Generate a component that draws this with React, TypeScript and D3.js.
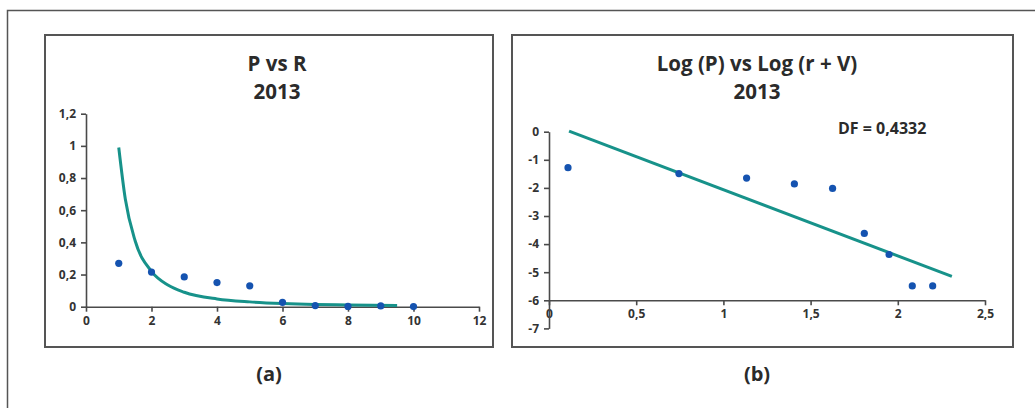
import * as d3 from "d3";
import React, { useRef, useEffect } from "react";

// chart (a): P vs R
const rValues = [1, 2, 3, 4, 5, 6, 7, 8, 9, 10];
const pValues = [0.27, 0.215, 0.185, 0.15, 0.13, 0.027, 0.007, 0.002, 0.005, 0.001];
// power trend line
const trendR = [1, 1.2, 1.5, 2, 2.5, 3, 4, 5, 6, 7, 8, 9.5];
const trendP = [0.99, 0.67, 0.41, 0.22, 0.135, 0.09, 0.048, 0.03, 0.02, 0.014, 0.011, 0.008];
const xTicksA = [0, 2, 4, 6, 8, 10, 12];
const yTicksA = [0, 0.2, 0.4, 0.6, 0.8, 1, 1.2];

// chart (b): Log (P) vs Log (r + V)
const logRV = [0.109, 0.745, 1.133, 1.407, 1.626, 1.808, 1.95, 2.083, 2.2];
const logP = [-1.28, -1.49, -1.65, -1.86, -2.02, -3.62, -4.37, -5.49, -5.49];
const fitX = [0.115, 2.31];
const fitY = [0.02, -5.15];
const xTicksB = [0, 0.5, 1, 1.5, 2, 2.5];
const yTicksB = [0, -1, -2, -3, -4, -5, -6, -7];
const dfLabel = "DF = 0,4332";

const FONT = "'Open Sans', 'Noto Sans', sans-serif";
const AXIS = "#4a4a4a";
const TEAL = "#17928a";
const DOT = "#1553b0";

// comma as decimal separator
const fmt = (d: number) => String(d).replace(".", ",");

function styleAxis(g: any) {
  g.select(".domain").attr("stroke", AXIS).attr("stroke-width", 1.6);
  g.selectAll(".tick line").attr("stroke", AXIS).attr("stroke-width", 1.6);
  g.selectAll(".tick text")
    .attr("fill", "#333")
    .style("font-family", FONT)
    .style("font-size", "12px")
    .style("font-weight", 700);
}

function App() {
  const ref = useRef<SVGSVGElement>(null);

  useEffect(() => {
    const svg = d3.select(ref.current);
    svg.selectAll("*").remove();

    // outer frame (open to the right and bottom)
    svg.append("path")
      .attr("d", "M7.5,408 L7.5,10.5 L1035,10.5")
      .attr("fill", "none")
      .attr("stroke", "#555")
      .attr("stroke-width", 1.5);

    // panel boxes
    const boxes = [
      { x: 45, y: 35, w: 448, h: 312 },
      { x: 512, y: 35, w: 501, h: 312 },
    ];
    boxes.forEach((b) => {
      svg.append("rect")
        .attr("x", b.x).attr("y", b.y).attr("width", b.w).attr("height", b.h)
        .attr("fill", "white").attr("stroke", "#555").attr("stroke-width", 2);
    });

    const title = (cx: number, lines: string[]) => {
      lines.forEach((t, i) => {
        svg.append("text")
          .attr("x", cx).attr("y", 71 + i * 28)
          .attr("text-anchor", "middle")
          .attr("fill", "#2b2b2b")
          .style("font-family", FONT).style("font-size", "20.5px").style("font-weight", 700)
          .text(t);
      });
    };

    // ---------- chart (a) ----------
    const xA = d3.scaleLinear().domain([0, 12]).range([86, 479]);
    const yA = d3.scaleLinear().domain([0, 1.2]).range([306.7, 113.7]);
    title(277, ["P vs R", "2013"]);

    const gxA = svg.append("g").attr("transform", `translate(0,${yA(0)})`)
      .call(d3.axisBottom(xA).tickValues(xTicksA).tickSize(5).tickSizeOuter(0).tickPadding(5).tickFormat(fmt as any));
    styleAxis(gxA);
    const gyA = svg.append("g").attr("transform", `translate(${xA(0)},0)`)
      .call(d3.axisLeft(yA).tickValues(yTicksA).tickSize(5).tickSizeOuter(0).tickPadding(5).tickFormat(fmt as any));
    styleAxis(gyA);

    const lineA = d3.line<number>()
      .x((d) => xA(d))
      .y((d, i) => yA(trendP[i]))
      .curve(d3.curveMonotoneX);
    svg.append("path")
      .attr("d", lineA(trendR))
      .attr("fill", "none").attr("stroke", TEAL).attr("stroke-width", 3);

    svg.append("g").selectAll("circle").data(rValues).enter().append("circle")
      .attr("cx", (d) => xA(d))
      .attr("cy", (d, i) => yA(pValues[i]))
      .attr("r", 3.6).attr("fill", DOT);

    // ---------- chart (b) ----------
    const xB = d3.scaleLinear().domain([0, 2.5]).range([549, 985]);
    const yB = d3.scaleLinear().domain([-7, 0]).range([328.4, 131.7]);
    title(757, ["Log (P) vs Log (r + V)", "2013"]);

    const gxB = svg.append("g").attr("transform", `translate(0,${yB(-6)})`)
      .call(d3.axisBottom(xB).tickValues(xTicksB).tickSize(5).tickSizeOuter(0).tickPadding(4).tickFormat(fmt as any));
    styleAxis(gxB);
    const gyB = svg.append("g").attr("transform", `translate(${xB(0)},0)`)
      .call(d3.axisLeft(yB).tickValues(yTicksB).tickSize(5).tickSizeOuter(0).tickPadding(5).tickFormat(fmt as any));
    styleAxis(gyB);

    const lineB = d3.line<number>()
      .x((d) => xB(d))
      .y((d, i) => yB(fitY[i]));
    svg.append("path")
      .attr("d", lineB(fitX))
      .attr("fill", "none").attr("stroke", TEAL).attr("stroke-width", 3);

    svg.append("g").selectAll("circle").data(logRV).enter().append("circle")
      .attr("cx", (d) => xB(d))
      .attr("cy", (d, i) => yB(logP[i]))
      .attr("r", 3.6).attr("fill", DOT);

    svg.append("text")
      .attr("x", 838).attr("y", 134)
      .attr("fill", "#2b2b2b")
      .style("font-family", FONT).style("font-size", "16px").style("font-weight", 700)
      .text(dfLabel);

    // captions
    [["(a)", 269], ["(b)", 757]].forEach(([t, x]) => {
      svg.append("text")
        .attr("x", x as number).attr("y", 381)
        .attr("text-anchor", "middle")
        .attr("fill", "#2b2b2b")
        .style("font-family", FONT).style("font-size", "20px").style("font-weight", 700)
        .text(t as string);
    });
  }, []);

  return (
    <svg
      ref={ref}
      width={1035}
      height={408}
      style={{ position: "absolute", left: 0, top: 0, background: "white" }}
    />
  );
}

export default App;
